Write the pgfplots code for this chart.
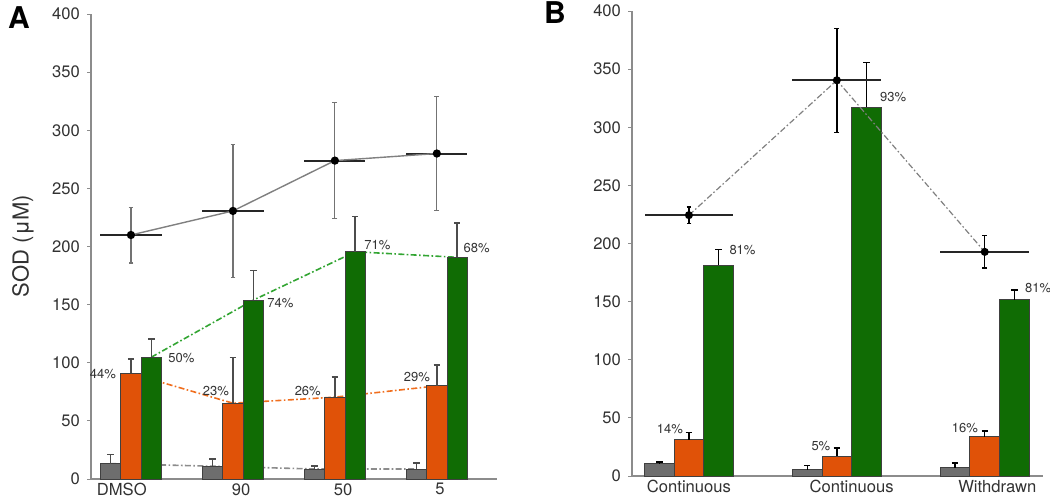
\documentclass[border=0pt]{standalone}
\usepackage{pgfplots}
\pgfplotsset{compat=1.18}
\usepackage{fontspec}
\setmainfont{TeX Gyre Heros}
\definecolor{barg}{RGB}{110,110,110}
\definecolor{baro}{RGB}{224,82,8}
\definecolor{bargr}{RGB}{16,108,4}
\definecolor{lino}{RGB}{240,110,30}
\definecolor{lingr}{RGB}{50,165,50}
\definecolor{ticktxt}{RGB}{50,50,50}
\tikzset{
  pct/.style={font=\fontsize{6.5}{7}\selectfont, text=black!80, inner sep=1pt},
  conn/.style={line width=0.8pt, dash pattern=on 3pt off 1.2pt on 0.8pt off 1.2pt},
}
\pgfplotsset{
  panel/.style={
    scale only axis, anchor=south west, clip=false,
    ymin=0, ymax=400, ytick={0,50,...,400},
    axis lines*=left,
    axis line style={black!45, line width=0.6pt},
    tick align=outside, major tick length=2pt,
    ytick style={black!45, line width=0.5pt},
    xtick style={draw=none},
    tick label style={font=\fontsize{8.3}{9}\selectfont, text=ticktxt},
    xticklabel style={inner sep=0.5pt, yshift=0.5pt},
    /pgf/number format/assume math mode=true,
  },
  bars/.style={ybar, bar width=0.2, bar shift=0pt, draw=black!75, line width=0.5pt},
}
\begin{document}
\begin{tikzpicture}
\path[use as bounding box] (0,0) rectangle (525pt,250pt);
\node[font=\bfseries\fontsize{15}{15}\selectfont] at (9.5pt,241.25pt) {A};
\node[font=\bfseries\fontsize{15}{15}\selectfont] at (277.5pt,243.75pt) {B};
\node[rotate=90, font=\fontsize{11}{12}\selectfont, text=ticktxt] at (11.5pt,127pt) {SOD (μM)};

% ---------------- Panel A ----------------
\begin{axis}[panel, at={(45.5pt,10.5pt)}, width=203pt, height=232.5pt,
  xmin=0.608, xmax=4.59,
  xtick={0.91,2.08,3.08,4.03}, xticklabels={DMSO,90,50,5}]
% connectors
\addplot[conn, black!45] coordinates {(0.8,13.2) (1.8,11) (2.8,8.6) (3.8,8.6)};
\addplot[conn, lino] coordinates {(1,90.8) (2,65.2) (3,70.4) (4,80.1)};
\addplot[conn, lingr] coordinates {(1.2,104.8) (2.2,153.9) (3.2,195.5) (4.2,190.7)};
% bars
\addplot[bars, fill=barg, error bars/.cd, y dir=plus, y explicit,
  error bar style={black!70, line width=0.8pt},
  error mark options={rotate=90, mark size=1.6pt, black!70, line width=0.8pt}]
  coordinates {(0.8,13.2) +- (0,7.8) (1.8,11) +- (0,6) (2.8,8.6) +- (0,2.6) (3.8,8.6) +- (0,5.2)};
\addplot[bars, fill=baro, error bars/.cd, y dir=plus, y explicit,
  error bar style={black!70, line width=0.8pt},
  error mark options={rotate=90, mark size=1.6pt, black!70, line width=0.8pt}]
  coordinates {(1,90.8) +- (0,12.6) (2,65.2) +- (0,39.3) (3,70.4) +- (0,17.2) (4,80.1) +- (0,17.9)};
\addplot[bars, fill=bargr, error bars/.cd, y dir=plus, y explicit,
  error bar style={black!70, line width=0.8pt},
  error mark options={rotate=90, mark size=1.6pt, black!70, line width=0.8pt}]
  coordinates {(1.2,104.8) +- (0,15.8) (2.2,153.9) +- (0,25.3) (3.2,195.5) +- (0,30.2) (4.2,190.7) +- (0,29.3)};
% total line with error bars
\addplot[draw=none, mark=none, forget plot, error bars/.cd, y dir=both, y explicit,
  error bar style={black!55, line width=0.6pt},
  error mark options={rotate=90, mark size=1.2pt, black!55, line width=0.6pt}]
  coordinates {(1,209.9) +- (0,24) (2,230.6) +- (0,57.1) (3,273.9) +- (0,49.7) (4,280) +- (0,49)};
\addplot[draw=none, mark=none, forget plot, error bars/.cd, x dir=both, x fixed=0.3,
  error bar style={black!85, line width=1pt}, error mark=none]
  coordinates {(1,209.9) (2,230.6) (3,273.9) (4,280)};
\addplot[black!50, line width=0.7pt, mark=*, mark size=1.7pt, mark options={black, solid}]
  coordinates {(1,209.9) (2,230.6) (3,273.9) (4,280)};
% percentage labels
\node[pct, anchor=east] at (axis cs:0.875,90) {44\%};
\node[pct, anchor=west] at (axis cs:1.343,104) {50\%};
\node[pct, anchor=east] at (axis cs:1.985,76) {23\%};
\node[pct, anchor=west] at (axis cs:2.314,151.6) {74\%};
\node[pct, anchor=east] at (axis cs:2.885,75.5) {26\%};
\node[pct, anchor=west] at (axis cs:3.265,201) {71\%};
\node[pct, anchor=east] at (axis cs:3.955,88) {29\%};
\node[pct, anchor=west] at (axis cs:4.24,198.7) {68\%};
\end{axis}

% ---------------- Panel B ----------------
\begin{axis}[panel, at={(316pt,12pt)}, width=205.5pt, height=232.5pt,
  xmin=0.615, xmax=3.394,
  xtick={1,2.1,3.085}, xticklabels={Continuous,Continuous,Withdrawn}]
\addplot[bars, fill=barg, error bars/.cd, y dir=plus, y explicit,
  error bar style={black, line width=0.7pt},
  error mark options={rotate=90, mark size=1.6pt, black, line width=0.7pt}]
  coordinates {(0.8,10.7) +- (0,1.3) (1.8,5.5) +- (0,3.7) (2.8,6.9) +- (0,4.3)};
\addplot[bars, fill=baro, error bars/.cd, y dir=plus, y explicit,
  error bar style={black, line width=0.7pt},
  error mark options={rotate=90, mark size=1.6pt, black, line width=0.7pt}]
  coordinates {(1,31.3) +- (0,6) (2,17) +- (0,7.1) (3,33.6) +- (0,5.2)};
\addplot[bars, fill=bargr, error bars/.cd, y dir=plus, y explicit,
  error bar style={black, line width=0.7pt},
  error mark options={rotate=90, mark size=1.6pt, black, line width=0.7pt}]
  coordinates {(1.2,181.4) +- (0,13.6) (2.2,317.1) +- (0,38.4) (3.2,151.8) +- (0,8.1)};
\addplot[draw=none, mark=none, forget plot, error bars/.cd, y dir=both, y explicit,
  error bar style={black, line width=0.7pt},
  error mark options={rotate=90, mark size=1.2pt, black, line width=0.7pt}]
  coordinates {(1,224.4) +- (0,7) (2,340.4) +- (0,44.7) (3,192.8) +- (0,14)};
\addplot[draw=none, mark=none, forget plot, error bars/.cd, x dir=both, x fixed=0.3,
  error bar style={black!85, line width=1pt}, error mark=none]
  coordinates {(1,224.4) (2,340.4) (3,192.8)};
\addplot[conn, black!50, line width=0.6pt, mark=*, mark size=1.7pt, mark options={black, solid}]
  coordinates {(1,224.4) (2,340.4) (3,192.8)};
\node[pct, anchor=west] at (axis cs:1.258,194) {81\%};
\node[pct, anchor=west] at (axis cs:2.277,326) {93\%};
\node[pct, anchor=east] at (axis cs:0.975,40) {14\%};
\node[pct, anchor=east] at (axis cs:1.972,25.8) {5\%};
\node[pct, anchor=east] at (axis cs:2.97,41.7) {16\%};
\node[pct, anchor=west] at (axis cs:3.257,161.8) {81\%};
\end{axis}
\end{tikzpicture}
\end{document}
